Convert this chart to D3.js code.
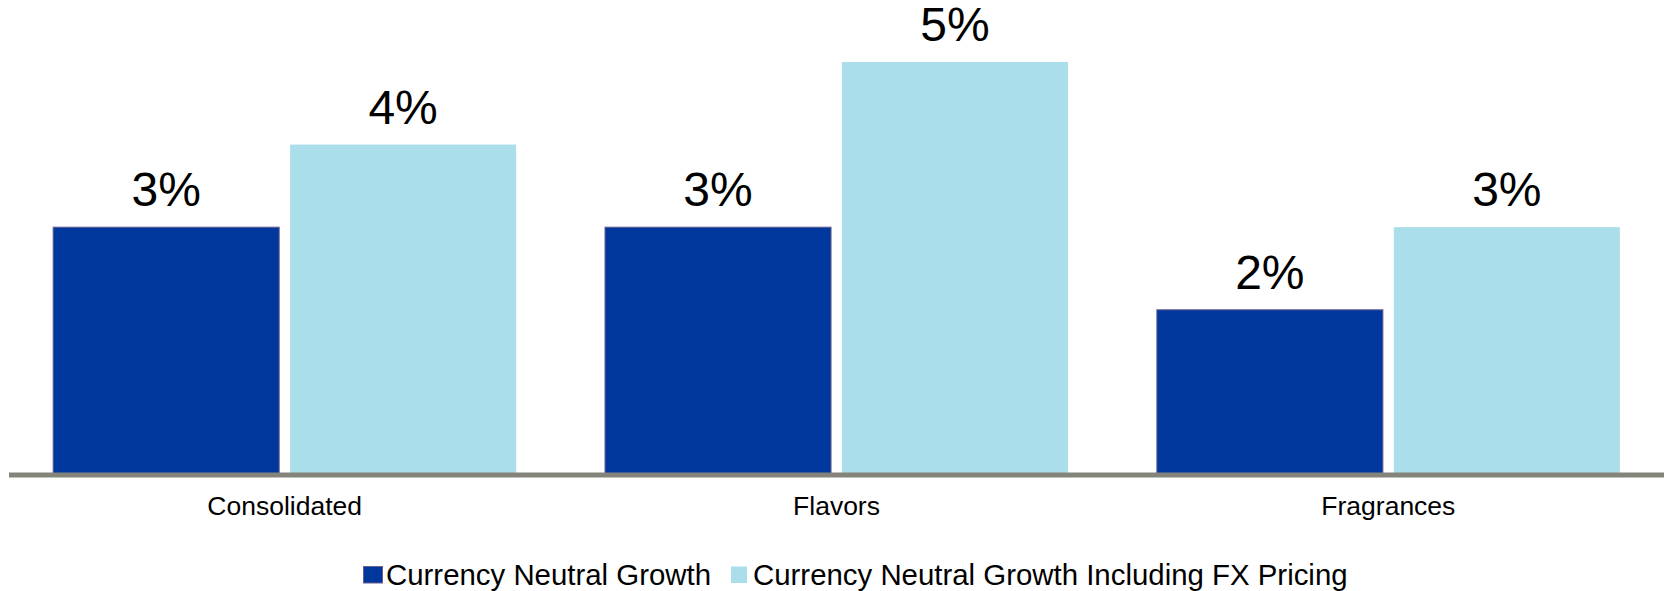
<!DOCTYPE html>
<html>
<head>
<meta charset="utf-8">
<script src="https://cdn.jsdelivr.net/npm/d3@7"></script>
<style>
  body { margin: 0; background: #fff; }
  text { font-family: "Liberation Sans", Arial, sans-serif; fill: #000; }
</style>
</head>
<body>
<svg id="chart"></svg>
<script>
let categories = ['Consolidated', 'Flavors', 'Fragrances']
let seriesNames = ['Currency Neutral Growth', 'Currency Neutral Growth Including FX Pricing']
let neutralGrowth = [3, 3, 2]
let fxPricingGrowth = [4, 5, 3]
let colors = ['#00379c', '#aadeeb']

let width = 1667
let height = 591
let baseY = 475

let svg = d3.select('#chart')
  .attr('width', width)
  .attr('height', height)

// rows for the grouped bars
let data = categories.map((c, i) => ({
  category: c,
  values: [
    { key: seriesNames[0], value: neutralGrowth[i] },
    { key: seriesNames[1], value: fxPricingGrowth[i] }
  ]
}))

let x0 = d3.scaleBand()
  .domain(categories)
  .range([9, 1664])
  .paddingInner(0.161)
  .paddingOuter(0.08)

let x1 = d3.scaleBand()
  .domain(seriesNames)
  .range([0, x0.bandwidth()])
  .paddingInner(0.046)

let y = d3.scaleLinear()
  .domain([0, 5.75])
  .range([baseY, 0])

let color = d3.scaleOrdinal()
  .domain(seriesNames)
  .range(colors)

let groups = svg.append('g')
  .selectAll('g')
  .data(data)
  .join('g')
  .attr('transform', d => `translate(${x0(d.category)},0)`)

groups.selectAll('rect')
  .data(d => d.values)
  .join('rect')
  .attr('x', d => x1(d.key))
  .attr('y', d => y(d.value))
  .attr('width', x1.bandwidth())
  .attr('height', d => baseY - y(d.value))
  .attr('fill', d => color(d.key))
  .attr('stroke', (d, i) => i == 0 ? '#6b5f8f' : 'none')
  .attr('stroke-width', 1)

groups.selectAll('text.value')
  .data(d => d.values)
  .join('text')
  .attr('class', 'value')
  .attr('x', d => x1(d.key) + x1.bandwidth() / 2)
  .attr('y', d => y(d.value) - 21)
  .attr('text-anchor', 'middle')
  .style('font-size', '48px')
  .text(d => d.value + '%')

// category axis, drawn as a thick line with the tick labels under it
let xAxis = svg.append('g')
  .attr('transform', `translate(0,${baseY})`)
  .call(d3.axisBottom(x0).tickSize(0).tickPadding(40))

xAxis.select('.domain')
  .attr('d', `M${x0.range()[0]},0H${x0.range()[1]}`)
  .attr('stroke', '#84847a')
  .attr('stroke-width', 5)

xAxis.selectAll('text')
  .attr('dy', 0)
  .style('font-size', '26.5px')
  .style('font-family', '"Liberation Sans", Arial, sans-serif')
  .attr('fill', '#000')

// legend
let legendX = [363, 731]
let legend = svg.append('g')
  .selectAll('g')
  .data(seriesNames)
  .join('g')
  .attr('transform', (d, i) => `translate(${legendX[i]},566)`)

legend.append('rect')
  .attr('x', (d, i) => i == 0 ? 0.5 : 0)
  .attr('y', 0.5)
  .attr('width', (d, i) => i == 0 ? 19 : 16)
  .attr('height', 16.5)
  .attr('fill', d => color(d))
  .attr('stroke', (d, i) => i == 0 ? '#6b5f8f' : 'none')

legend.append('text')
  .attr('x', (d, i) => i == 0 ? 23 : 22)
  .attr('y', 18.5)
  .style('font-size', '29.4px')
  .text(d => d)
</script>
</body>
</html>
